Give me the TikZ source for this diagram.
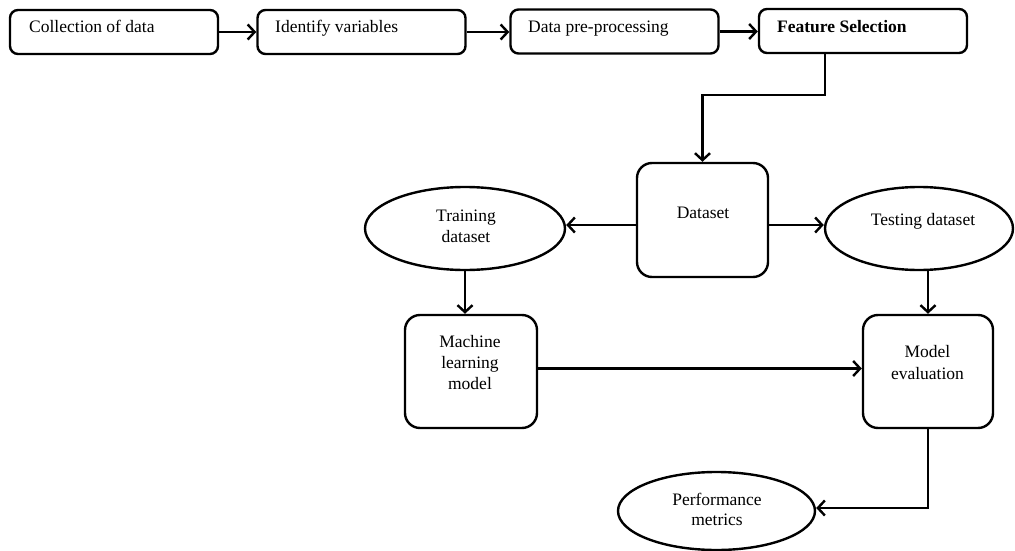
\documentclass[tikz,border=0pt]{standalone}
\usepackage{fontspec}
\setmainfont{Liberation Serif}
\usetikzlibrary{arrows.meta,shapes.geometric}
\begin{document}
\begin{tikzpicture}[x=1pt,y=-1pt,
  line width=2.4pt,
  font=\fontsize{17.5}{21}\selectfont,
  box/.style={draw, rounded corners=8pt, inner sep=0pt, minimum width=208pt, minimum height=44pt},
  bigbox/.style={draw, rounded corners=15pt, inner sep=0pt},
  oval/.style={draw, ellipse, inner sep=0pt},
  lbl/.style={inner sep=0pt, align=center},
  arr/.style={-{Straight Barb[length=7pt,width=15pt,line width=2.4pt]}},
]
\useasboundingbox (0,0) rectangle (1015,551);

% top row
\node[box] (b1) at (114,32) {};
\node[box] (b2) at (361.5,32) {};
\node[box] (b3) at (614.5,31.5) {};
\node[box] (b4) at (863,31) {};
\node[lbl, anchor=base west] (t1) at (28,33) {Collection of data};
\node[lbl, anchor=base west] (t2) at (274,33) {Identify variables};
\node[lbl, anchor=base west] (t3) at (527,32.5) {Data pre-processing};
\node[lbl, anchor=base west] (t4) at (776,33) {\bfseries Feature Selection};

% middle
\node[bigbox, minimum width=131pt, minimum height=114pt] (ds) at (702.5,220) {};
\node[lbl, anchor=base] (tds) at (703,218) {Dataset};
\node[oval, minimum width=200pt, minimum height=83pt] (tr) at (465,228.5) {};
\node[lbl] (ttr) at (466,226) {Training\\dataset};
\node[oval, minimum width=188pt, minimum height=83pt] (te) at (919,228.5) {};
\node[lbl, anchor=base] (tte) at (923,225) {Testing dataset};

% lower
\node[bigbox, minimum width=132pt, minimum height=113pt] (ml) at (471,371.5) {};
\node[lbl] (tml) at (470,363) {Machine\\learning\\model};
\node[bigbox, minimum width=130pt, minimum height=113pt] (ev) at (928,371.5) {};
\node[lbl, font=\fontsize{17.5}{22}\selectfont] (tev) at (927.5,363) {Model\\evaluation};
\node[oval, minimum width=197pt, minimum height=78pt] (pm) at (716.5,511) {};
\node[lbl, font=\fontsize{17.5}{20}\selectfont] (tpm) at (717,509) {Performance\\metrics};

% connectors
\draw[arr] (b1.east) -- (b2.west);
\draw[arr] (b2.east) -- (b2.east -| b3.west);
\draw[arr] (b3.east) -- (b3.east -| b4.west);
\draw[arr] ([xshift=-38pt]b4.south) -- ++(0,41) -| (ds.north);
\draw[arr] ([yshift=-5pt]ds.west) -- ([yshift=-5pt]ds.west -| tr.east);
\draw[arr] ([yshift=-5pt]ds.east) -- ([yshift=-5pt]ds.east -| te.west);
\draw[arr] (tr.south) -- (tr.south |- ml.north);
\draw[arr] (ev.north |- te.south) -- (ev.north);
\draw[arr] ([yshift=3pt]ml.east) -- ([yshift=3pt]ml.east -| ev.west);
\draw[arr] (ev.south) |- ([yshift=3pt]pm.east);
\end{tikzpicture}
\end{document}
